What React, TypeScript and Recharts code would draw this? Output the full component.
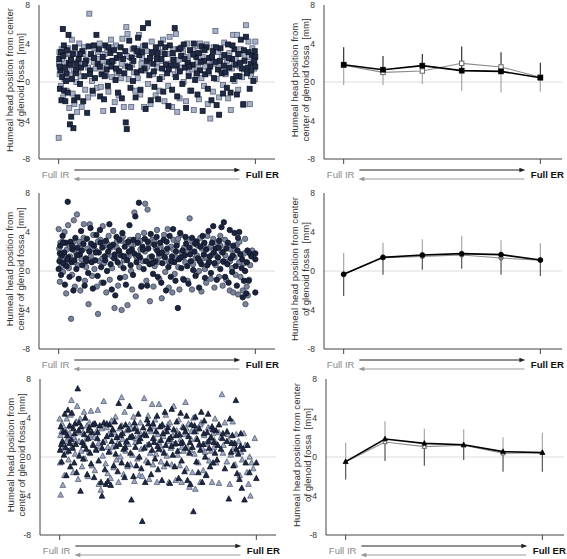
import React from 'react';
import { ScatterChart, Scatter, ComposedChart, Line, ErrorBar, XAxis, YAxis, ReferenceLine } from 'recharts';

const FONT = '"Liberation Sans", Arial, sans-serif';
const yTicks = [-8, -4, 0, 4, 8];
const stages = [0, 1, 2, 3, 4, 5];

const labelA = ['Humeal head position from center', 'of glenoid fossa  [mm]'];
const labelB = ['Humeal head position from', 'center of glenoid fossa  [mm]'];

// scatter: [position along IR->ER (0..100), displacement mm]
const squaresDark: [number, number][] = [
  [0.3,2.4],[0.6,-0.7],[0.9,1.2],[1.2,3.1],[1.4,-1.9],[1.8,0.5],[2.1,5.5],[2.4,2.7],[2.8,-0.9],[3.1,1.5],[3.4,-2.0],[3.8,0.1],[4.2,3.3],[4.6,-1.1],[5.0,4.9],[5.3,2.0],[5.7,-4.4],[6.0,1.8],[6.4,-3.6],[6.8,0.3],[7.2,2.9],[7.5,-4.8],[7.9,-1.9],[8.3,3.6],[8.7,0.9],[9.1,1.9],[9.6,-1.6],[10.2,2.4],[10.8,-0.2],[11.4,1.5],[12.0,3.2],[12.5,-2.0],[13.1,0.6],[13.8,2.2],[14.5,-3.2],[15.2,3.7],[15.9,1.2],[16.5,2.9],[17.2,-0.9],[17.9,3.8],[18.5,0.4],[19.2,4.9],[19.8,1.9],[20.5,3.4],[21.1,-1.5],[21.8,0.8],[22.4,2.6],[23.1,-1.8],[23.7,3.8],[24.4,1.3],[25.0,-0.4],[25.6,2.1],[26.3,3.0],[26.9,1.6],[27.6,-2.9],[28.2,3.3],[28.9,0.2],[29.5,2.5],[30.2,-1.1],[30.8,1.1],[31.5,3.6],[32.1,-1.7],[32.8,2.4],[33.4,0.9],[34.1,-4.2],[34.6,-4.9],[35.2,1.6],[35.9,4.3],[36.5,-0.6],[37.1,2.5],[37.8,0.1],[38.4,3.5],[39.1,-1.6],[39.7,1.0],[40.4,4.6],[41.0,2.8],[41.6,-0.8],[42.3,3.1],[42.9,5.6],[43.6,1.4],[44.2,-2.8],[44.9,2.2],[45.5,6.1],[46.1,0.7],[46.8,-1.9],[47.4,3.1],[48.1,1.9],[48.7,-0.5],[49.4,3.6],[50.0,2.4],[50.6,-1.8],[51.3,0.3],[51.9,4.0],[52.6,1.4],[53.2,-1.0],[53.9,2.9],[54.5,1.8],[55.2,0.9],[55.8,-2.5],[56.5,3.8],[57.1,1.7],[57.7,-0.8],[58.4,2.3],[59.0,5.6],[59.7,0.5],[60.3,-1.5],[61.0,3.4],[61.6,1.1],[62.3,2.7],[62.9,-0.2],[63.6,3.9],[64.2,1.5],[64.8,-2.7],[65.5,2.0],[66.1,0.6],[66.8,3.3],[67.4,-0.9],[68.1,1.8],[68.7,4.0],[69.4,0.2],[70.0,2.6],[70.6,-1.3],[71.3,3.0],[71.9,1.2],[72.6,3.7],[73.2,-3.0],[73.9,2.2],[74.5,0.8],[75.2,3.6],[75.8,-0.7],[76.5,2.5],[77.1,1.6],[77.7,-1.9],[78.4,3.2],[79.0,0.4],[79.7,2.1],[80.3,-2.4],[81.0,1.3],[81.6,-3.4],[82.3,3.5],[82.9,0.9],[83.6,-1.2],[84.2,2.8],[84.8,1.0],[85.5,-0.6],[86.1,3.9],[86.8,1.5],[87.4,-1.1],[88.1,2.4],[88.7,0.3],[89.4,3.4],[90.0,1.8],[90.6,-1.3],[91.3,2.9],[91.9,0.6],[92.6,4.4],[93.2,1.4],[93.9,-2.3],[94.5,2.2],[95.2,4.7],[95.8,0.9],[96.5,3.1],[97.1,-0.7],[97.7,1.9],[98.4,2.8],[99.0,0.1],[99.7,3.2],[100,1.6],[100,2.6],
  [0.5,1.6],[2.6,3.8],[4.0,0.9],[6.2,2.3],[8.9,1.3],[11.0,2.9],[13.4,1.9],[16.0,0.8],[18.0,2.5],[20.9,1.6],[23.4,0.6],[25.3,3.6],[27.3,2.2],[29.2,1.4],[31.0,2.8],[33.9,3.2],[36.2,1.5],[38.0,2.2],[40.0,3.2],[42.0,1.2],[44.0,3.8],[46.4,2.5],[48.4,1.1],[50.3,3.0],[52.3,2.4],[54.2,3.6],[56.0,1.3],[58.0,3.0],[60.0,1.7],[62.0,3.5],[64.0,2.4],[66.4,1.6],[68.4,2.9],[70.3,0.9],[72.2,2.1],[74.2,3.3],[76.2,1.1],[78.0,2.6],[80.0,3.6],[82.0,2.2],[84.0,1.7],[86.4,2.5],[88.4,3.8],[90.3,0.6],[92.3,2.0],[94.2,3.3],[96.2,1.5],[98.0,1.2],[99.5,2.2],
];
const squaresLight: [number, number][] = [
  [0.0,-5.8],[0.2,1.9],[0.5,0.8],[0.8,2.5],[1.1,-0.4],[1.5,3.4],[1.9,1.0],[2.3,-1.6],[2.7,2.0],[3.0,0.3],[3.6,2.9],[4.0,-0.9],[4.4,1.6],[4.9,3.5],[5.4,-2.7],[5.9,0.7],[6.3,2.4],[6.7,4.4],[7.1,-1.2],[7.6,1.3],[8.0,-2.3],[8.5,3.0],[9.0,0.0],[9.4,-3.1],[9.9,2.1],[10.5,4.0],[11.1,0.6],[11.7,-2.6],[12.3,1.8],[12.9,3.6],[13.5,-0.8],[14.2,2.3],[14.9,-1.6],[15.6,7.1],[16.2,2.6],[16.9,0.1],[17.5,-1.2],[18.2,3.5],[18.8,1.4],[19.5,-0.6],[20.1,2.4],[20.8,4.0],[21.4,-0.5],[22.1,1.5],[22.7,-3.0],[23.4,2.9],[24.0,0.7],[24.7,3.3],[25.3,-1.0],[26.0,1.8],[26.6,4.4],[27.2,0.5],[27.9,2.2],[28.5,-2.1],[29.2,3.8],[29.8,1.2],[30.5,-1.4],[31.1,2.6],[31.8,0.4],[32.4,4.5],[33.1,-2.6],[33.7,1.7],[34.4,5.7],[35.0,5.0],[35.6,0.3],[36.3,2.6],[36.9,-2.6],[37.6,3.4],[38.2,1.0],[38.9,-0.9],[39.5,2.9],[40.2,0.4],[40.8,4.9],[41.5,-1.3],[42.1,1.9],[42.8,3.7],[43.4,-2.6],[44.1,1.2],[44.7,3.2],[45.4,-0.2],[46.0,2.1],[46.7,-2.3],[47.3,4.2],[48.0,0.8],[48.6,2.7],[49.3,-1.4],[49.9,1.5],[50.5,3.5],[51.2,-0.9],[51.8,2.2],[52.5,0.5],[53.1,4.4],[53.8,-2.0],[54.4,1.3],[55.1,2.9],[55.7,-0.4],[56.4,4.7],[57.0,1.9],[57.7,-2.6],[58.3,3.4],[59.0,0.8],[59.6,5.0],[60.3,-3.1],[60.9,2.3],[61.5,-1.7],[62.2,1.5],[62.8,3.6],[63.5,0.0],[64.1,2.6],[64.8,-2.0],[65.4,4.0],[66.1,1.0],[66.7,-0.9],[67.4,2.8],[68.0,1.3],[68.7,-2.9],[69.3,3.7],[70.0,0.7],[70.6,2.1],[71.3,-1.8],[71.9,4.0],[72.6,0.4],[73.2,2.6],[73.9,-0.4],[74.5,1.6],[75.2,3.9],[75.8,-2.3],[76.5,0.9],[77.1,-3.8],[77.8,2.4],[78.4,-1.0],[79.0,1.9],[79.7,5.3],[80.3,0.3],[81.0,3.1],[81.6,-1.6],[82.3,1.2],[82.9,2.6],[83.6,-0.3],[84.2,4.1],[84.9,0.8],[85.5,2.2],[86.2,-1.7],[86.8,3.0],[87.5,-2.9],[88.1,1.4],[88.7,4.9],[89.4,0.1],[90.0,2.4],[90.7,4.9],[91.3,-0.8],[92.0,1.6],[92.6,3.4],[93.3,0.5],[93.9,-2.4],[94.6,2.8],[95.2,5.9],[95.9,1.1],[96.5,4.2],[97.2,-2.3],[97.8,0.6],[98.5,3.5],[99.1,2.0],[99.8,0.3],[100,4.2],
  [0.4,3.1],[1.7,2.4],[3.3,1.1],[5.6,3.0],[7.8,2.0],[10.0,1.1],[12.6,2.9],[15.0,1.5],[17.8,2.1],[19.9,3.1],[22.4,2.2],[24.9,1.7],[27.0,3.6],[29.5,0.9],[32.0,1.9],[34.8,2.7],[37.4,1.8],[39.8,3.4],[42.5,2.5],[45.0,1.6],[47.7,3.0],[50.2,2.1],[52.8,3.1],[55.4,1.9],[58.0,2.5],[60.6,1.1],[63.2,3.2],[65.8,2.2],[68.4,3.3],[71.0,1.5],[73.5,3.4],[76.0,2.2],[78.8,3.6],[81.3,2.0],[83.9,1.4],[86.5,2.7],[89.0,1.9],[91.6,2.9],[94.2,1.3],[96.8,2.6],[99.4,1.4],
];
const circlesDark: [number, number][] = [
  [0.0,0.2],[0.4,1.0],[0.8,2.6],[1.2,-0.4],[1.6,1.6],[2.0,3.6],[2.4,0.8],[2.8,1.9],[3.2,-1.4],[3.6,2.9],[4.0,0.5],[4.6,7.1],[5.0,1.4],[5.5,-0.6],[6.0,3.0],[6.5,0.9],[7.0,2.2],[7.5,-2.0],[8.0,1.1],[8.5,3.4],[9.0,0.2],[9.6,2.4],[10.2,-0.8],[10.8,1.7],[11.4,4.1],[12.0,0.6],[12.6,2.8],[13.2,-1.5],[13.8,1.3],[14.4,3.3],[15.0,-0.2],[15.6,2.0],[16.2,4.4],[16.8,0.9],[17.4,-1.8],[18.0,2.6],[18.6,1.1],[19.2,3.7],[19.8,-0.5],[20.4,1.9],[21.0,4.2],[21.6,0.4],[22.2,2.4],[22.8,-1.2],[23.4,1.5],[24.0,3.1],[24.6,0.0],[25.2,2.0],[25.8,4.8],[26.4,0.7],[27.0,-1.9],[27.6,2.7],[28.2,1.3],[28.8,-2.5],[29.4,3.5],[30.0,0.9],[30.6,2.1],[31.2,-0.7],[31.8,1.6],[32.4,3.9],[33.0,0.3],[33.6,2.5],[34.2,-1.4],[34.8,1.1],[35.4,3.0],[36.0,4.7],[36.6,0.6],[37.2,2.2],[37.8,-0.4],[38.4,1.8],[39.0,5.6],[39.6,0.9],[40.2,2.9],[40.8,7.0],[41.4,1.4],[42.0,-1.6],[42.6,2.5],[43.2,0.2],[43.8,3.3],[44.4,1.0],[45.0,-1.5],[45.6,2.3],[46.2,0.7],[46.8,3.8],[47.4,1.5],[48.0,-0.3],[48.6,2.7],[49.2,1.0],[49.8,3.5],[50.4,-0.6],[51.0,1.8],[51.6,2.9],[52.2,-1.2],[52.8,0.8],[53.4,3.2],[54.0,1.4],[54.6,-2.0],[55.2,2.3],[55.8,0.4],[56.4,3.6],[57.0,-0.6],[57.6,1.5],[58.2,4.3],[58.8,0.9],[59.4,-1.0],[60.0,2.6],[60.6,-3.8],[61.2,1.2],[61.8,3.9],[62.4,0.3],[63.0,2.1],[63.6,-0.9],[64.2,1.6],[64.8,2.8],[65.4,0.5],[66.0,-1.3],[66.6,2.4],[67.2,1.0],[67.8,3.4],[68.4,0.1],[69.0,2.0],[69.6,-0.5],[70.2,3.0],[70.8,1.3],[71.4,-1.7],[72.0,2.5],[72.6,0.7],[73.2,3.6],[73.8,1.7],[74.4,-0.7],[75.0,2.2],[75.6,0.6],[76.2,4.1],[76.8,1.5],[77.4,-0.2],[78.0,2.9],[78.6,4.6],[79.2,0.8],[79.8,2.3],[80.4,-0.9],[81.0,1.4],[81.6,3.1],[82.2,0.2],[82.8,4.5],[83.4,1.9],[84.0,5.0],[84.6,-0.6],[85.2,2.3],[85.8,0.7],[86.4,-1.2],[87.0,4.2],[87.6,1.3],[88.2,-0.1],[88.8,2.6],[89.4,3.9],[90.0,0.5],[90.6,-1.5],[91.2,3.4],[91.8,4.0],[92.4,1.7],[93.0,0.3],[93.6,-2.7],[94.2,-1.0],[94.8,0.0],[95.4,-2.3],[96.0,2.1],[96.6,-1.0],[97.2,1.8],[100,-2.2],[100,1.8],[100,1.2],
  [0.6,1.8],[2.2,2.9],[4.4,1.2],[6.8,2.6],[9.3,1.6],[11.8,2.1],[14.1,1.0],[16.5,2.8],[18.9,1.9],[21.3,2.9],[23.7,1.1],[26.1,2.5],[28.5,1.7],[30.9,3.2],[33.3,1.5],[35.7,2.0],[38.1,3.2],[40.5,1.6],[42.9,2.2],[45.3,3.0],[47.7,0.8],[50.1,2.1],[52.5,1.9],[54.9,3.0],[57.3,1.0],[59.7,2.0],[62.1,1.4],[64.5,3.5],[66.9,1.7],[69.3,2.8],[71.7,1.0],[74.1,2.9],[76.5,0.9],[78.9,1.9],[81.3,2.4],[83.7,1.0],[86.1,2.9],[88.5,1.6],[90.9,2.1],[93.3,1.2],[95.7,0.9],[98.0,1.5],
];
const circlesLight: [number, number][] = [
  [0.0,4.3],[0.3,2.3],[0.6,-1.1],[1.0,1.3],[1.4,0.5],[1.8,3.0],[2.2,-0.1],[2.6,1.7],[3.0,4.0],[3.4,0.9],[3.8,-2.3],[4.2,2.2],[4.8,4.7],[5.2,0.3],[5.8,1.5],[6.3,-4.9],[6.8,-0.4],[7.2,2.9],[7.7,5.2],[8.2,-1.6],[8.8,1.9],[9.3,5.8],[9.8,0.6],[10.4,3.0],[11.0,-2.0],[11.6,1.2],[12.2,2.7],[12.8,4.8],[13.4,-1.0],[14.0,0.4],[14.6,2.3],[15.2,-3.4],[15.8,4.8],[16.4,1.5],[17.0,-0.5],[17.6,3.7],[18.2,0.2],[18.8,2.1],[19.4,-1.6],[20.0,-4.4],[20.6,1.0],[21.2,3.2],[21.8,-1.2],[22.4,4.6],[23.0,0.8],[23.6,2.6],[24.2,-2.2],[24.8,1.7],[25.4,3.6],[26.0,-0.9],[26.6,2.4],[27.2,0.3],[27.8,4.1],[28.4,-3.8],[29.0,1.4],[29.6,3.0],[30.2,-1.5],[30.8,2.0],[31.4,0.6],[32.0,-4.0],[32.6,3.5],[33.2,1.1],[33.8,-0.6],[34.4,2.9],[35.0,-3.5],[35.6,1.5],[36.2,3.2],[36.8,0.0],[37.4,-1.9],[38.0,2.7],[38.5,6.0],[39.2,-2.6],[39.8,1.3],[40.4,3.6],[41.0,0.4],[41.6,2.2],[42.2,-1.5],[42.8,1.0],[43.4,3.9],[44.0,6.9],[44.6,-1.0],[45.2,6.3],[45.8,2.8],[46.4,-3.1],[47.0,1.2],[47.6,3.2],[48.2,-1.6],[48.8,0.5],[49.4,2.3],[50.0,4.2],[50.6,0.9],[51.2,-0.8],[51.8,2.6],[52.4,-2.8],[53.0,1.6],[53.6,3.7],[54.2,-0.1],[54.8,1.9],[55.4,4.3],[56.0,-1.7],[56.6,0.8],[57.2,2.5],[57.8,-2.2],[58.4,3.2],[59.0,-0.3],[59.6,1.4],[60.2,2.9],[60.8,0.4],[61.4,-1.9],[62.0,3.7],[62.6,1.9],[63.2,-0.8],[63.8,2.4],[64.4,0.9],[65.0,3.3],[65.6,-1.0],[66.6,5.4],[67.2,2.0],[67.8,-1.9],[68.4,0.7],[69.0,3.1],[69.6,1.3],[70.2,-0.2],[70.8,2.6],[71.4,0.0],[72.0,3.4],[72.6,-2.1],[73.2,1.3],[73.8,2.7],[74.4,0.2],[75.0,-1.2],[75.6,3.6],[76.2,1.1],[76.8,2.4],[77.4,-0.8],[78.0,1.7],[78.6,3.3],[79.2,-1.7],[79.8,0.6],[80.4,2.9],[81.0,1.0],[81.6,-0.6],[82.2,3.6],[82.8,2.0],[83.4,-1.5],[84.0,0.9],[84.6,3.2],[85.2,-0.9],[85.8,2.7],[86.4,1.0],[87.0,-2.0],[87.6,2.2],[88.2,0.3],[88.8,-2.2],[89.4,1.4],[90.0,-0.4],[90.6,2.7],[91.2,-2.4],[91.8,0.9],[92.4,-0.6],[93.0,1.7],[93.6,-2.0],[94.2,0.8],[94.8,3.3],[95.0,-3.4],[95.6,-1.6],[96.2,-2.5],[96.8,-0.9],[97.4,0.6],[98.4,2.1],
  [0.9,2.9],[3.1,1.5],[5.5,2.6],[7.9,0.9],[10.3,1.9],[12.7,3.4],[15.1,1.1],[17.5,2.3],[19.9,3.0],[22.3,1.3],[24.7,2.8],[27.1,1.5],[29.5,2.4],[31.9,3.1],[34.3,1.5],[36.7,2.7],[39.1,1.6],[41.5,3.1],[43.9,2.0],[46.3,1.4],[48.7,3.0],[51.1,1.5],[53.5,2.1],[55.9,1.0],[58.3,2.2],[60.7,3.3],[63.1,1.4],[65.5,2.0],[67.9,3.0],[70.3,1.6],[72.7,2.3],[75.1,1.4],[77.5,2.6],[79.9,1.6],[82.3,2.6],[84.7,1.6],[87.1,1.0],[89.5,2.2],[91.9,3.0],[94.3,1.8],
];
const trianglesDark: [number, number][] = [
  [0.2,0.7],[0.6,3.1],[1.0,-0.5],[1.4,1.6],[1.8,2.6],[2.2,0.2],[2.6,4.4],[3.0,1.0],[3.4,-1.9],[3.8,2.2],[4.2,4.8],[4.6,0.6],[5.0,3.2],[5.4,-1.0],[5.8,1.8],[6.2,4.5],[6.6,0.9],[7.0,2.9],[7.4,-0.6],[7.8,3.4],[8.2,1.3],[8.6,-1.6],[9.2,7.0],[9.6,2.7],[10.0,0.1],[10.6,-3.5],[11.0,3.1],[11.5,1.5],[12.0,-0.2],[12.5,2.3],[13.0,4.0],[13.5,0.8],[14.0,-1.8],[14.5,1.9],[15.0,3.0],[15.5,0.4],[16.0,-0.7],[16.5,2.5],[17.0,1.2],[17.5,-2.1],[18.0,3.4],[18.6,0.7],[19.2,1.9],[19.8,-0.4],[20.4,3.2],[21.0,-2.6],[21.5,-4.0],[22.0,1.5],[22.5,3.5],[23.0,-1.3],[23.5,-2.8],[24.0,2.1],[24.5,-2.5],[25.0,0.5],[25.5,3.3],[26.0,-2.9],[26.5,1.6],[27.0,2.8],[27.5,-0.9],[28.0,3.6],[28.5,0.3],[29.0,2.0],[29.5,-1.5],[30.0,5.5],[30.5,1.3],[31.0,3.1],[31.5,-0.6],[32.0,2.4],[32.5,0.8],[33.0,-2.1],[33.5,3.3],[34.0,1.6],[34.5,-0.8],[35.0,2.8],[35.5,5.2],[36.0,0.4],[36.5,-4.4],[37.0,2.1],[37.5,-2.0],[38.0,3.5],[38.5,1.0],[39.0,-0.9],[39.5,2.6],[40.0,4.4],[40.5,0.0],[41.0,1.9],[41.5,-1.2],[42.0,-6.6],[42.5,3.0],[43.0,0.9],[43.5,-2.6],[44.0,2.2],[44.5,3.8],[45.0,-0.6],[45.5,1.3],[46.0,2.9],[46.5,-1.8],[47.0,0.7],[47.5,3.4],[48.0,1.5],[48.5,-0.2],[49.0,2.6],[49.5,4.2],[50.0,-1.3],[50.5,0.8],[51.0,3.1],[51.5,1.7],[52.0,-2.4],[52.5,2.4],[53.0,0.4],[53.5,4.6],[54.0,1.2],[54.5,-0.7],[55.0,3.0],[55.5,1.8],[56.0,-2.7],[56.5,2.0],[57.0,4.9],[57.5,0.2],[58.0,2.8],[58.5,-1.0],[59.0,1.4],[59.5,3.6],[60.0,0.6],[60.5,-2.2],[61.0,2.3],[61.5,4.5],[62.0,-0.4],[62.5,1.5],[63.0,3.0],[63.5,-1.5],[64.0,0.9],[64.5,4.2],[65.0,-2.4],[65.5,2.1],[66.0,0.4],[66.5,-2.8],[67.0,3.3],[67.5,1.0],[68.0,-5.6],[68.5,2.6],[69.0,4.1],[69.5,-0.5],[70.0,1.8],[70.5,-1.6],[71.0,2.9],[71.5,0.7],[72.0,4.6],[72.5,-2.6],[73.0,1.3],[73.5,3.7],[74.0,0.0],[74.5,-1.9],[75.0,2.5],[75.5,4.4],[76.0,0.9],[76.5,-1.0],[77.0,2.0],[77.5,3.1],[78.0,-0.6],[78.5,1.5],[79.0,0.4],[79.5,2.7],[80.0,-0.3],[81.0,3.3],[82.0,0.8],[83.0,2.4],[84.0,-1.2],[85.0,1.6],[86.0,-4.3],[86.6,3.9],[87.2,0.5],[87.8,2.2],[88.4,-0.9],[89.0,1.4],[89.6,5.8],[90.2,-1.7],[90.8,0.3],[91.4,-2.3],[92.0,1.1],[92.6,-3.2],[93.4,0.8],[94.0,-4.4],[94.6,-0.6],[95.5,1.2],[96.5,-1.6],[100,-2.2],[100,-0.6],
  [0.8,1.3],[2.9,2.5],[5.2,1.4],[7.6,2.4],[9.9,3.5],[12.2,1.2],[14.6,2.7],[16.9,3.3],[19.3,2.5],[21.6,0.9],[24.0,3.4],[26.3,2.3],[28.7,1.1],[31.0,2.2],[33.4,1.0],[35.7,2.0],[38.1,2.9],[40.4,1.6],[42.8,2.3],[45.1,3.4],[47.5,1.9],[49.8,1.1],[52.2,3.3],[54.5,2.6],[56.9,1.1],[59.2,2.2],[61.6,1.4],[63.9,2.6],[66.3,1.5],[68.6,3.2],[71.0,1.3],[73.3,2.4],[75.7,1.6],[78.0,2.8],[80.4,1.2],[82.7,1.9],[85.1,2.6],[87.4,1.4],[89.8,0.8],[92.1,2.4],
];
const trianglesLight: [number, number][] = [
  [0.0,3.9],[0.2,-0.6],[0.4,2.2],[0.5,-3.9],[0.8,0.9],[1.2,3.4],[1.6,-2.9],[2.0,1.4],[2.4,-1.9],[2.8,2.8],[3.2,0.5],[3.6,3.9],[4.0,1.7],[4.5,-0.3],[5.0,2.4],[5.5,4.3],[6.0,5.8],[6.4,1.1],[6.9,-1.6],[7.4,2.0],[7.9,0.3],[8.4,3.6],[8.9,5.2],[9.4,-2.3],[9.9,1.6],[10.4,3.9],[10.9,0.6],[11.4,-1.0],[11.9,2.5],[12.4,4.6],[12.9,-0.2],[13.4,1.8],[13.9,3.2],[14.4,-2.0],[14.9,0.5],[15.4,2.2],[15.9,4.7],[16.4,-0.9],[16.9,1.3],[17.4,3.4],[17.9,-1.4],[18.4,0.8],[18.9,2.7],[19.4,4.8],[19.9,-2.8],[20.4,1.1],[20.9,-3.4],[21.4,2.9],[21.9,0.1],[22.4,5.7],[22.9,1.7],[23.4,-0.7],[23.9,3.0],[24.4,-1.7],[24.9,2.3],[25.4,0.6],[25.9,-2.2],[26.4,3.7],[26.9,1.0],[27.4,-1.1],[27.9,2.5],[28.4,4.1],[28.9,-0.3],[29.4,1.4],[29.9,-2.6],[30.4,2.9],[30.9,0.0],[31.5,6.1],[32.0,1.8],[32.5,-1.8],[33.0,4.6],[33.5,0.6],[34.0,2.7],[34.5,-1.0],[35.0,1.3],[35.5,3.3],[36.0,-0.8],[36.5,2.1],[37.0,0.2],[37.5,4.1],[38.0,-2.5],[38.5,1.5],[39.0,3.0],[39.5,-0.2],[40.0,1.9],[40.5,-1.9],[41.0,3.5],[41.5,0.8],[42.0,-2.0],[43.0,6.0],[43.5,2.4],[44.0,-0.4],[44.5,1.2],[45.0,4.2],[45.5,-2.3],[46.0,0.4],[46.5,2.6],[47.0,5.4],[47.5,-0.8],[48.0,1.9],[48.5,3.8],[49.0,0.3],[49.5,-2.6],[50.0,2.3],[50.5,5.4],[51.0,1.2],[51.5,-0.5],[52.0,3.2],[52.5,0.7],[53.0,-1.0],[53.5,2.6],[54.0,4.3],[54.5,0.1],[55.0,1.6],[55.5,-2.6],[56.0,3.5],[56.5,0.9],[57.0,-0.8],[57.5,2.2],[58.0,5.2],[58.5,1.3],[59.0,-2.4],[59.5,2.7],[60.0,0.2],[60.5,3.8],[61.0,-0.9],[61.5,1.8],[62.0,-2.6],[62.5,3.1],[63.0,0.6],[63.5,2.3],[64.0,5.6],[64.5,-1.2],[65.0,1.0],[65.5,3.4],[66.0,-3.1],[66.5,0.7],[67.0,2.6],[67.5,-1.6],[68.0,4.0],[68.5,0.3],[69.0,-3.3],[69.5,1.9],[70.0,2.9],[70.5,-0.6],[71.0,1.2],[71.5,-2.6],[72.0,3.5],[72.5,0.9],[73.0,-1.4],[73.5,2.2],[74.0,0.5],[74.5,-1.8],[75.0,1.5],[75.5,3.0],[76.0,-0.4],[76.5,1.9],[77.0,0.6],[77.5,-2.6],[78.0,2.4],[78.5,1.0],[79.0,3.9],[79.5,-0.6],[80.0,1.3],[81.0,-2.7],[82.0,2.0],[82.5,6.4],[83.0,0.4],[84.0,3.5],[85.0,-0.5],[86.0,1.7],[86.5,-2.8],[87.0,0.2],[88.0,3.6],[88.6,1.0],[89.2,-0.8],[89.8,2.3],[90.4,0.6],[91.0,1.6],[91.6,-1.9],[92.2,0.5],[92.8,-0.3],[93.6,2.4],[94.4,1.2],[95.2,-1.6],[96.0,-2.8],[96.6,0.0],[97.0,-4.0],[97.6,-0.6],[98.4,-1.2],[99.2,1.9],
  [1.0,2.6],[3.4,1.6],[5.7,3.1],[8.1,1.6],[10.4,2.5],[12.8,1.2],[15.1,3.5],[17.5,2.0],[19.8,1.4],[22.2,3.3],[24.5,1.0],[26.9,2.8],[29.2,2.0],[31.6,3.2],[33.9,1.5],[36.3,2.9],[38.6,1.9],[41.0,2.4],[43.3,1.0],[45.7,2.8],[48.0,3.1],[50.4,1.5],[52.7,2.1],[55.1,3.3],[57.4,1.4],[59.8,2.3],[62.1,1.0],[64.5,2.9],[66.8,1.8],[69.2,2.6],[71.5,3.3],[73.9,1.3],[76.2,2.9],[78.6,1.7],[80.9,2.5],[83.3,1.2],[85.6,2.3],[88.0,1.4],
];

// mean curves (black = toward ER, gray = back toward IR) and SD
const squareMeanBlack = [1.8, 1.28, 1.7, 1.18, 1.1, 0.45];
const squareMeanGray = [1.75, 1.0, 1.14, 1.94, 1.56, 0.5];
const squareSdUp = [1.8, 1.42, 1.2, 2.52, 2.0, 1.55];
const squareSdDown = [2.05, 1.3, 1.34, 2.84, 2.66, 1.5];

const circleMeanBlack = [-0.34, 1.4, 1.64, 1.78, 1.68, 1.13];
const circleMeanGray = [-0.34, 1.36, 1.5, 1.64, 1.33, 1.1];
const circleSdUp = [2.19, 1.54, 1.75, 1.98, 1.82, 1.74];
const circleSdDown = [2.22, 1.78, 1.5, 1.54, 2.06, 1.64];

const triMeanBlack = [-0.48, 1.85, 1.4, 1.25, 0.55, 0.45];
const triMeanGray = [-0.48, 1.54, 1.06, 1.2, 0.38, 0.45];
const triSdUp = [1.93, 2.12, 1.84, 1.65, 1.62, 2.05];
const triSdDown = [1.82, 2.25, 2.3, 1.55, 2.05, 1.95];

type Kind = 'square' | 'circle' | 'triangle';

function marker(kind: Kind, cx: number, cy: number, s: number, fill: string, stroke: string, sw: number, key?: any) {
  if (cx == null || cy == null) return <g key={key} />;
  if (kind === 'square') {
    return <rect key={key} x={cx - s / 2} y={cy - s / 2} width={s} height={s} fill={fill} stroke={stroke} strokeWidth={sw} />;
  }
  if (kind === 'circle') {
    return <circle key={key} cx={cx} cy={cy} r={s / 2} fill={fill} stroke={stroke} strokeWidth={sw} />;
  }
  const h = s * 0.95;
  return (
    <polygon
      key={key}
      points={`${cx},${cy - h * 0.6} ${cx + s / 2},${cy + h * 0.4} ${cx - s / 2},${cy + h * 0.4}`}
      fill={fill}
      stroke={stroke}
      strokeWidth={sw}
    />
  );
}

const yLabel = (lines: string[]) => (props: any) => {
  const vb = props.viewBox || { x: 0, y: 0, width: 39, height: 0 };
  const cy = vb.y + vb.height / 2 - 2;
  return (
    <g>
      {lines.map((t, k) => {
        const x = vb.x + vb.width - 26 + k * 11;
        return (
          <text key={k} x={x} y={cy} transform={`rotate(-90 ${x} ${cy})`} textAnchor="middle"
            fontSize={9.6} fill="#333" style={{ whiteSpace: 'pre' }}>
            {t}
          </text>
        );
      })}
    </g>
  );
};

const XTick = (props: any) => {
  const { x, y, payload } = props;
  if (payload.value === 0) {
    return (
      <text x={x - 3} y={y + 13.5} textAnchor="middle" fontSize={9.6} fill="#8a8a8a">Full IR</text>
    );
  }
  return (
    <g>
      <line x1={x - 181} y1={y + 6} x2={x - 18} y2={y + 6} stroke="#222" strokeWidth={1} />
      <polygon points={`${x - 15},${y + 6} ${x - 21},${y + 3.8} ${x - 21},${y + 8.2}`} fill="#222" />
      <line x1={x - 178} y1={y + 15} x2={x - 16} y2={y + 15} stroke="#999" strokeWidth={1} />
      <polygon points={`${x - 182},${y + 15} ${x - 176},${y + 12.8} ${x - 176},${y + 17.2}`} fill="#999" />
      <text x={x + 7} y={y + 13.5} textAnchor="middle" fontSize={9.6} fontWeight="bold" fill="#111">Full ER</text>
    </g>
  );
};

const axisStroke = '#444';

function yAxisEl(width: number, lines: string[]) {
  return (
    <YAxis
      type="number"
      dataKey="y"
      domain={[-8, 8]}
      ticks={yTicks}
      allowDataOverflow
      width={width}
      tick={{ fontSize: 8.5, fill: '#333' }}
      tickSize={2}
      tickMargin={7}
      axisLine={{ stroke: axisStroke }}
      tickLine={false}
      label={yLabel(lines)}
    />
  );
}

interface ScatterPanelProps {
  kind: Kind;
  dark: [number, number][];
  light: [number, number][];
  darkFill: string;
  lightFill: string;
  lightStroke: string;
  size: number;
  lines: string[];
  height: number;
}

const ScatterPanel: React.FC<ScatterPanelProps> = ({ kind, dark, light, darkFill, lightFill, lightStroke, size, lines, height }) => {
  const darkData = dark.map(([x, y]) => ({ x, y }));
  const lightData = light.map(([x, y]) => ({ x, y }));
  return (
    <ScatterChart width={283} height={height} margin={{ top: 5, right: 8, left: 0, bottom: 0 }}>
      <XAxis
        type="number"
        dataKey="x"
        domain={[-10, 110]}
        ticks={[0, 100]}
        interval={0}
        allowDataOverflow
        height={26}
        tickSize={5}
        tickMargin={0}
        axisLine={{ stroke: axisStroke }}
        tickLine={{ stroke: axisStroke }}
        tick={<XTick />}
      />
      {yAxisEl(39, lines)}
      <ReferenceLine y={0} stroke="#dcdcdc" strokeWidth={1} />
      <Scatter
        data={lightData}
        isAnimationActive={false}
        shape={(p: any) => marker(kind, p.cx, p.cy, size, lightFill, lightStroke, 0.8)}
      />
      <Scatter
        data={darkData}
        isAnimationActive={false}
        shape={(p: any) => marker(kind, p.cx, p.cy, size, darkFill, '#0e1424', 0.8)}
      />
    </ScatterChart>
  );
};

interface MeanPanelProps {
  kind: Kind;
  black: number[];
  gray: number[];
  sdUp: number[];
  sdDown: number[];
  upOnBlack: boolean;
  grayFill: string;
  lines: string[];
  height: number;
}

const MeanPanel: React.FC<MeanPanelProps> = ({ kind, black, gray, sdUp, sdDown, upOnBlack, grayFill, lines, height }) => {
  const data = stages.map((i, k) => ({
    i,
    black: black[k],
    gray: gray[k],
    up: [0, sdUp[k]],
    down: [sdDown[k], 0],
  }));
  return (
    <ComposedChart data={data} width={284} height={height} margin={{ top: 5, right: 5, left: 0, bottom: 0 }}>
      <XAxis
        type="number"
        dataKey="i"
        domain={[-0.5, 5.55]}
        ticks={[0, 5]}
        interval={0}
        allowDataOverflow
        height={26}
        tickSize={5}
        tickMargin={0}
        axisLine={{ stroke: axisStroke }}
        tickLine={{ stroke: axisStroke }}
        tick={<XTick />}
      />
      {yAxisEl(41, lines)}
      <ReferenceLine y={0} stroke="#dcdcdc" strokeWidth={1} />
      <Line
        dataKey="gray"
        stroke="#8c8c8c"
        strokeWidth={1.1}
        isAnimationActive={false}
        dot={(p: any) => marker(kind, p.cx, p.cy, 4.4, grayFill, '#666', 1, p.index)}
        activeDot={false}
      >
        <ErrorBar dataKey={upOnBlack ? 'down' : 'up'} width={0} stroke="#a8a8a8" strokeWidth={1.2} direction="y" />
      </Line>
      <Line
        dataKey="black"
        stroke="#000"
        strokeWidth={1.6}
        isAnimationActive={false}
        dot={(p: any) => marker(kind, p.cx, p.cy, 5, '#000', '#000', 0.6, p.index)}
        activeDot={false}
      >
        <ErrorBar dataKey={upOnBlack ? 'up' : 'down'} width={0} stroke={upOnBlack ? '#333' : '#555'} strokeWidth={1.2} direction="y" />
      </Line>
    </ComposedChart>
  );
};

export default function App() {
  const box = (left: number, top: number): React.CSSProperties => ({ position: 'absolute', left, top });
  return (
    <div style={{ position: 'absolute', left: 0, top: 0, width: 567, height: 559, overflow: 'hidden', background: '#fff', fontFamily: FONT }}>
      <div style={box(0, 0)}>
        <ScatterPanel kind="square" dark={squaresDark} light={squaresLight} darkFill="#1f2b47" lightFill="#a9b1c4"
          lightStroke="#5a6480" size={5} lines={labelA} height={185} />
      </div>
      <div style={box(283, 0)}>
        <MeanPanel kind="square" black={squareMeanBlack} gray={squareMeanGray} sdUp={squareSdUp} sdDown={squareSdDown}
          upOnBlack={true} grayFill="#fff" lines={labelB} height={185} />
      </div>
      <div style={box(0, 188)}>
        <ScatterPanel kind="circle" dark={circlesDark} light={circlesLight} darkFill="#1c2540" lightFill="#7b849a"
          lightStroke="#3f475c" size={5.4} lines={labelB} height={187} />
      </div>
      <div style={box(283, 188)}>
        <MeanPanel kind="circle" black={circleMeanBlack} gray={circleMeanGray} sdUp={circleSdUp} sdDown={circleSdDown}
          upOnBlack={false} grayFill="#888" lines={labelA} height={187} />
      </div>
      <div style={box(1, 374)}>
        <ScatterPanel kind="triangle" dark={trianglesDark} light={trianglesLight} darkFill="#1d2946" lightFill="#a0a9c0"
          lightStroke="#56607a" size={5.6} lines={labelB} height={187} />
      </div>
      <div style={box(285, 374)}>
        <MeanPanel kind="triangle" black={triMeanBlack} gray={triMeanGray} sdUp={triSdUp} sdDown={triSdDown}
          upOnBlack={false} grayFill="#fff" lines={labelA} height={187} />
      </div>
    </div>
  );
}
